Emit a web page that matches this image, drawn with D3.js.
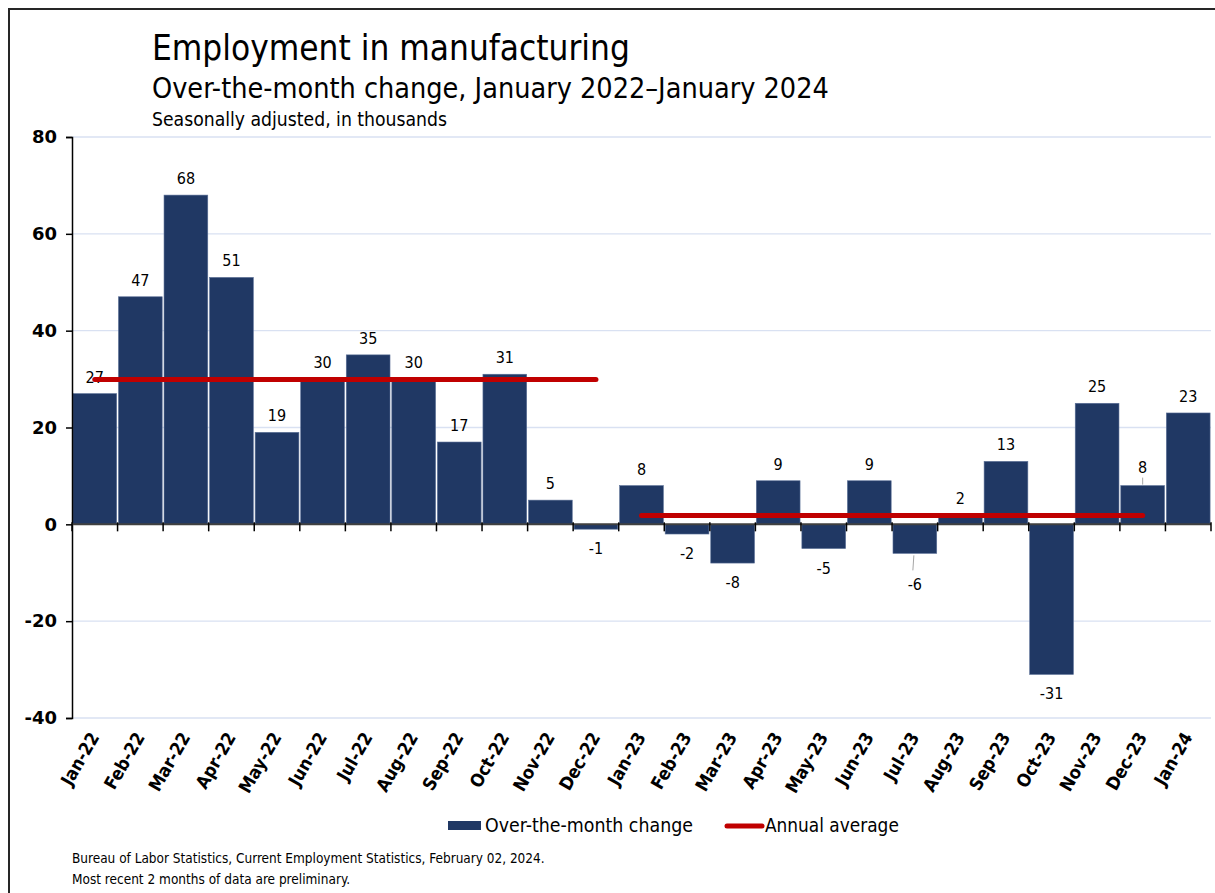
<!DOCTYPE html>
<html>
<head>
<meta charset="utf-8">
<script src="https://cdn.jsdelivr.net/npm/d3@7"></script>
<style>
  html, body { margin: 0; padding: 0; background: #fff; }
  svg { display: block; }
  text { font-family: 'DejaVu Sans Condensed', 'DejaVu Sans', sans-serif; font-stretch: condensed; }
</style>
</head>
<body>
<svg id="chart" width="1215" height="893"></svg>
<script>
// ---------- data ----------
const months = ["Jan-22","Feb-22","Mar-22","Apr-22","May-22","Jun-22","Jul-22","Aug-22","Sep-22","Oct-22","Nov-22","Dec-22",
                "Jan-23","Feb-23","Mar-23","Apr-23","May-23","Jun-23","Jul-23","Aug-23","Sep-23","Oct-23","Nov-23","Dec-23","Jan-24"];
const changes = [27,47,68,51,19,30,35,30,17,31,5,-1,8,-2,-8,9,-5,9,-6,2,13,-31,25,8,23];
const averageYears = ["2022","2023"];
const averageStart = ["Jan-22","Jan-23"];
const averageEnd = ["Dec-22","Dec-23"];
const averageValues = [29.9,1.8];
const yTicks = [-40,-20,0,20,40,60,80];
const titleText = "Employment in manufacturing";
const subtitleText = "Over-the-month change, January 2022\u2013January 2024";
const noteText = "Seasonally adjusted, in thousands";
const sourceLines = ["Bureau of Labor Statistics, Current Employment Statistics, February 02, 2024.",
                     "Most recent 2 months of data are preliminary."];
const legendLabels = ["Over-the-month change","Annual average"];

// ---------- setup ----------
const svg = d3.select("#chart");
const BAR = "#203864", RED = "#c00000", GRID = "#d9e1f2";
const plot = {left: 72, right: 1211, top: 137, bottom: 718};

const x = d3.scaleBand().domain(months).range([plot.left, plot.right]).paddingInner(0.04).paddingOuter(0.02);
const y = d3.scaleLinear().domain([-40, 80]).range([plot.bottom, plot.top]);

// fit helper: scale font-size so text reaches target width
function fit(sel, w) {
  const n = sel.node();
  const fs = parseFloat(sel.attr("font-size"));
  const len = n.getComputedTextLength();
  sel.attr("font-size", (fs * w / len).toFixed(2));
  return sel;
}

// frame
svg.append("rect").attr("x", 9).attr("y", 9).attr("width", 1230).attr("height", 920)
  .attr("fill", "none").attr("stroke", "#262626").attr("stroke-width", 2);

// titles
fit(svg.append("text").attr("x", 152).attr("y", 60).attr("font-size", 32).attr("fill", "#000").text(titleText), 478);
fit(svg.append("text").attr("x", 152).attr("y", 98).attr("font-size", 24).attr("fill", "#000").text(subtitleText), 677);
fit(svg.append("text").attr("x", 152).attr("y", 126).attr("font-size", 17).attr("fill", "#000").text(noteText), 295);

// gridlines
svg.append("g").selectAll("line").data(yTicks.filter(d => d !== 0)).join("line")
  .attr("x1", plot.left).attr("x2", plot.right)
  .attr("y1", d => y(d)).attr("y2", d => y(d))
  .attr("stroke", GRID).attr("stroke-width", 1.3);

// bars
svg.append("g").selectAll("rect").data(months).join("rect")
  .attr("x", d => x(d))
  .attr("width", x.bandwidth())
  .attr("y", (d, i) => y(Math.max(0, changes[i])))
  .attr("height", (d, i) => Math.abs(y(changes[i]) - y(0)))
  .attr("fill", BAR)
  .attr("stroke", "#5a6f96").attr("stroke-width", 0.6);

// y axis
const yAxis = d3.axisLeft(y).tickValues(yTicks).tickSize(6).tickPadding(9).tickFormat(d => String(d));
const gy = svg.append("g").attr("transform", `translate(${plot.left},0)`).call(yAxis);
gy.select(".domain").attr("stroke", "#000").attr("stroke-width", 1.5);
gy.selectAll(".tick line").attr("stroke", "#000").attr("stroke-width", 1.5);
gy.selectAll(".tick text").attr("font-size", 18).attr("font-weight", "bold").attr("fill", "#000")
  .style("font-family", "'DejaVu Sans', sans-serif").style("font-stretch", "normal");

// zero line with ticks at band boundaries
const boundaries = months.map(m => x(m) - x.step() * x.paddingInner() / 2).concat([plot.right]);
svg.append("line").attr("x1", plot.left).attr("x2", plot.right).attr("y1", y(0)).attr("y2", y(0))
  .attr("stroke", "#404040").attr("stroke-width", 2);
svg.append("g").selectAll("line").data(boundaries).join("line")
  .attr("x1", d => d).attr("x2", d => d).attr("y1", y(0) - 2).attr("y2", y(0) + 7)
  .attr("stroke", "#000").attr("stroke-width", 1.5);

// x labels (rotated)
svg.append("g").selectAll("text").data(months).join("text")
  .attr("transform", d => `translate(${x(d) + x.bandwidth() / 2 + 5},${plot.bottom + 19}) rotate(-60)`)
  .attr("text-anchor", "end")
  .attr("font-size", 18).attr("font-weight", "bold").attr("fill", "#000")
  .text(d => d);

// value labels
const leader = {"Jul-23": 12, "Dec-23": 2};
const labels = svg.append("g");
months.forEach((m, i) => {
  const v = changes[i];
  const cx = x(m) + x.bandwidth() / 2;
  const extra = leader[m] || 0;
  let ty;
  if (v >= 0) ty = y(v) - 11 - extra;
  else ty = y(v) + 25 + extra;
  if (leader[m]) {
    if (v >= 0) {
      labels.append("line").attr("x1", cx).attr("x2", cx).attr("y1", y(v) - 1).attr("y2", y(v) - 8)
        .attr("stroke", "#a6a6a6").attr("stroke-width", 1);
    } else {
      labels.append("line").attr("x1", cx - 1).attr("x2", cx - 2).attr("y1", y(v) + 2).attr("y2", y(v) + 17)
        .attr("stroke", "#a6a6a6").attr("stroke-width", 1);
    }
  }
  labels.append("text").attr("x", cx).attr("y", ty).attr("text-anchor", "middle")
    .attr("font-size", 16).attr("fill", "#000").text(v);
});

// annual average lines
svg.append("g").selectAll("line").data(averageYears).join("line")
  .attr("x1", (d, i) => x(averageStart[i]) + x.bandwidth() / 2)
  .attr("x2", (d, i) => x(averageEnd[i]) + x.bandwidth() / 2)
  .attr("y1", (d, i) => y(averageValues[i]))
  .attr("y2", (d, i) => y(averageValues[i]))
  .attr("stroke", RED).attr("stroke-width", 5).attr("stroke-linecap", "round");

// legend
const lg = svg.append("g");
lg.append("rect").attr("x", 448).attr("y", 821).attr("width", 33).attr("height", 9).attr("fill", BAR);
fit(lg.append("text").attr("x", 485).attr("y", 832).attr("font-size", 18).attr("fill", "#000").text(legendLabels[0]), 208);
lg.append("line").attr("x1", 727).attr("x2", 762).attr("y1", 826).attr("y2", 826)
  .attr("stroke", RED).attr("stroke-width", 5).attr("stroke-linecap", "round");
fit(lg.append("text").attr("x", 765).attr("y", 832).attr("font-size", 18).attr("fill", "#000").text(legendLabels[1]), 134);

// source
fit(svg.append("text").attr("x", 72).attr("y", 863).attr("font-size", 13).attr("fill", "#000").text(sourceLines[0]), 473);
fit(svg.append("text").attr("x", 72).attr("y", 884).attr("font-size", 13).attr("fill", "#000").text(sourceLines[1]), 278);
</script>
</body>
</html>
